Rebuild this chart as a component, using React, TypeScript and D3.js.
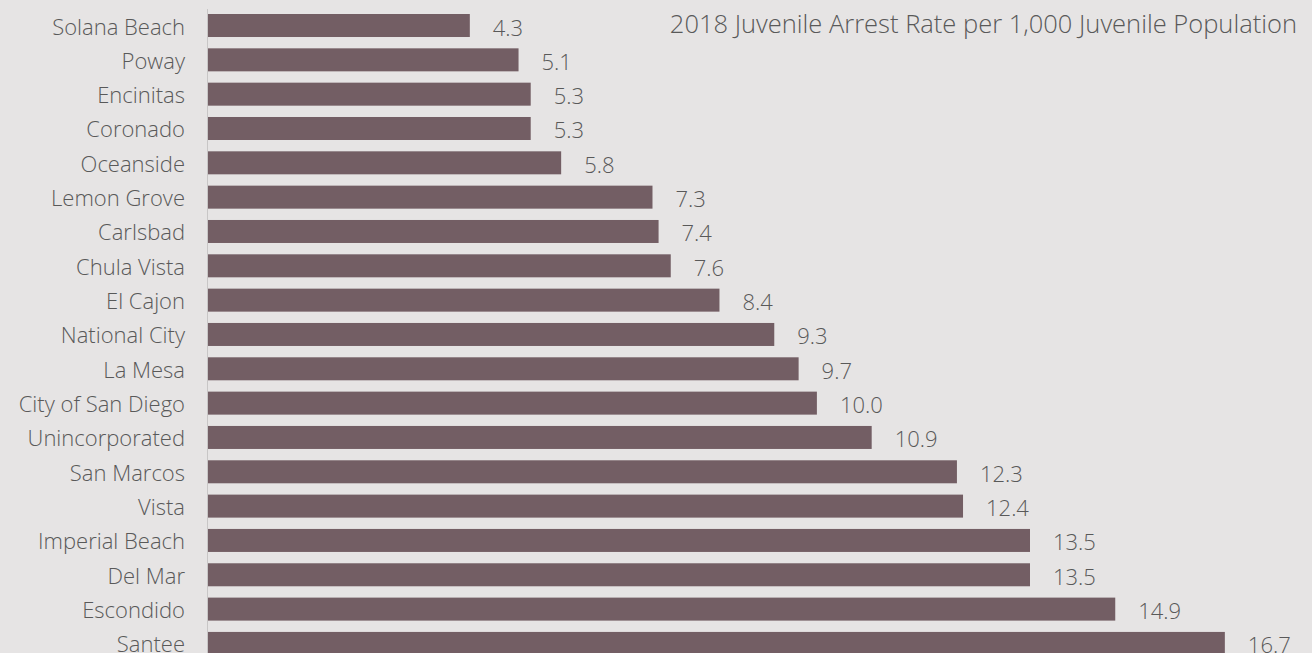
import React from "react";
import * as d3 from "d3";

const cities = [
  "Solana Beach", "Poway", "Encinitas", "Coronado", "Oceanside", "Lemon Grove",
  "Carlsbad", "Chula Vista", "El Cajon", "National City", "La Mesa",
  "City of San Diego", "Unincorporated", "San Marcos", "Vista", "Imperial Beach",
  "Del Mar", "Escondido", "Santee",
];
const rates = [4.3, 5.1, 5.3, 5.3, 5.8, 7.3, 7.4, 7.6, 8.4, 9.3, 9.7, 10.0, 10.9, 12.3, 12.4, 13.5, 13.5, 14.9, 16.7];
const title = "2018 Juvenile Arrest Rate per 1,000 Juvenile Population";

const W = 1312;
const H = 653;
const FONT = "'Open Sans', sans-serif";
const TEXT = "#595959";

export default function App() {
  const x = d3.scaleLinear().domain([0, 18]).range([208, 1304]);
  const y = d3
    .scaleBand<string>()
    .domain(cities)
    .range([8.34, 660.6])
    .paddingInner(0.33)
    .paddingOuter(0.165);

  return (
    <svg
      width={W}
      height={H}
      style={{ position: "absolute", left: 0, top: 0, background: "#e6e4e4" }}
    >
      <rect x={0} y={0} width={W} height={H} fill="#e6e4e4" />
      {cities.map((c, i) => {
        const yy = y(c)!;
        const bw = y.bandwidth();
        return (
          <g key={c}>
            <rect
              x={x(0)}
              y={yy}
              width={x(rates[i]) - x(0)}
              height={bw}
              fill="#735e64"
            />
            <text
              x={185}
              y={yy + bw / 2}
              textAnchor="end"
              dominantBaseline="central"
              fontFamily={FONT}
              fontWeight={300}
              fontSize={22}
              fill={TEXT}
            >
              {c}
            </text>
            <text
              x={x(rates[i]) + 23}
              y={yy + bw / 2 + 1}
              textAnchor="start"
              dominantBaseline="central"
              fontFamily={FONT}
              fontWeight={300}
              fontSize={22}
              fill={TEXT}
            >
              {rates[i].toFixed(1)}
            </text>
          </g>
        );
      })}
      <line x1={207.5} x2={207.5} y1={9} y2={H} stroke="#c8c6c6" strokeWidth={1} />
      <text
        x={1297}
        y={33}
        textAnchor="end"
        fontFamily={FONT}
        fontWeight={300}
        fontSize={25.5}
        fill={TEXT}
      >
        {title}
      </text>
    </svg>
  );
}
